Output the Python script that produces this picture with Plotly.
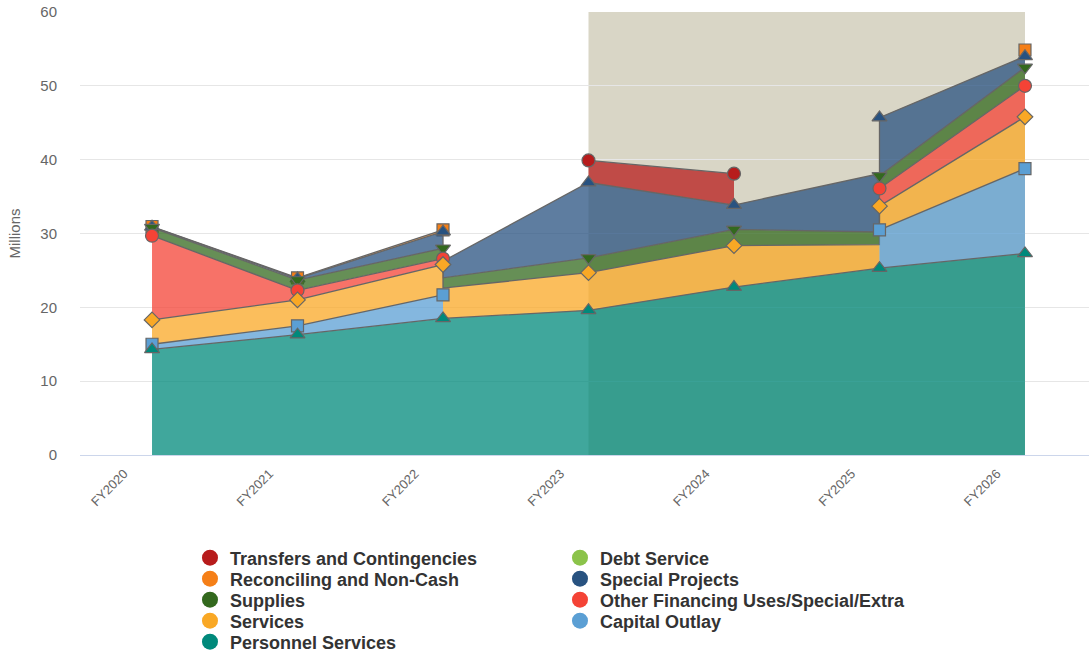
import plotly.graph_objects as go

# Fiscal years on the horizontal axis
fiscal_years = ["FY2020", "FY2021", "FY2022", "FY2023", "FY2024", "FY2025", "FY2026"]

# Spending by category, in millions (None = no budget line that year)
personnel_services = [14.3, 16.3, 18.5, 19.6, 22.75, 25.3, 27.3]
capital_outlay = [0.7, 1.2, 3.2, None, None, 5.2, 11.5]
services = [3.3, 3.5, 4.1, 5.1, 5.6, 3.2, 7.0]
other_financing = [11.4, 1.3, 0.8, None, None, 2.4, 4.2]
supplies = [1.1, 1.4, 1.4, 2.0, 2.2, 1.7, 2.5]
special_projects = [0.1, 0.2, 2.25, 10.2, 3.3, 7.9, 1.5]
reconciling = [0.05, 0.1, 0.25, None, None, None, 0.85]
debt_service = [None, None, None, None, None, None, None]
transfers = [None, None, None, 3.0, 4.25, None, None]

# Shaded range of years
band_start, band_end = "FY2023", "FY2026"

# Stack order, bottom to top: (name, values, colour, marker symbol)
stack = [
    ("Personnel Services", personnel_services, "#00897b", "triangle-up"),
    ("Capital Outlay", capital_outlay, "#5b9fd4", "square"),
    ("Services", services, "#f9a825", "diamond"),
    ("Other Financing Uses/Special/Extra", other_financing, "#f44336", "circle"),
    ("Supplies", supplies, "#33691e", "triangle-down"),
    ("Special Projects", special_projects, "#285280", "triangle-up"),
    ("Reconciling and Non-Cash", reconciling, "#f57f17", "square"),
    ("Debt Service", debt_service, "#8bc34a", "diamond"),
    ("Transfers and Contingencies", transfers, "#b71c1c", "circle"),
]

FONT = "Liberation Sans, Arial, sans-serif"
EDGE = "#666666"
n = len(fiscal_years)
xs = list(range(n))


def rgba(hex_colour, alpha):
    h = hex_colour.lstrip("#")
    r, g, b = int(h[0:2], 16), int(h[2:4], 16), int(h[4:6], 16)
    return f"rgba({r},{g},{b},{alpha})"


def base_between(level, k, j, at):
    """Sum of the lower layers that have values at both k and j, taken at `at`."""
    total = 0.0
    for _, vals, _, _ in stack[:level]:
        if vals[k] is not None and vals[j] is not None:
            total += vals[at]
    return total


def stacked_at(level, k):
    total = 0.0
    for _, vals, _, _ in stack[:level]:
        if vals[k] is not None:
            total += vals[k]
    return total + stack[level][1][k]


fig = go.Figure()

# Legend: two columns filled row by row, one small legend box per entry
legend_boxes = {}
LEGEND_X = [0.109, 0.4757]

# Draw from the top layer down so lower layers' edges and markers sit on top
for order, level in enumerate(range(len(stack) - 1, -1, -1)):
    name, vals, colour, symbol = stack[level]
    legend_id = "legend" if order == 0 else f"legend{order + 1}"
    legend_boxes[legend_id] = (order // 2, order % 2)

    # Contiguous runs of intervals where this layer has values at both ends
    runs, run = [], []
    for k in range(n - 1):
        if vals[k] is not None and vals[k + 1] is not None:
            run.append(k)
        elif run:
            runs.append(run)
            run = []
    if run:
        runs.append(run)

    area_x, area_y, line_x, line_y = [], [], [], []
    for run in runs:
        top_x, top_y, bot_x, bot_y = [], [], [], []
        for k in run:
            bl = base_between(level, k, k + 1, k)
            br = base_between(level, k, k + 1, k + 1)
            top_x += [xs[k], xs[k + 1]]
            top_y += [bl + vals[k], br + vals[k + 1]]
            bot_x += [xs[k], xs[k + 1]]
            bot_y += [bl, br]
        area_x += top_x + bot_x[::-1] + [top_x[0], None]
        area_y += top_y + bot_y[::-1] + [top_y[0], None]
        line_x += top_x + [None]
        line_y += top_y + [None]

    if area_x:
        fig.add_trace(go.Scatter(
            x=area_x, y=area_y, mode="lines", fill="toself",
            fillcolor=rgba(colour, 0.75), line=dict(width=0, color=colour),
            hoverinfo="skip", showlegend=False, legendgroup=name,
        ))
        fig.add_trace(go.Scatter(
            x=line_x, y=line_y, mode="lines",
            line=dict(width=1.3, color=EDGE),
            hoverinfo="skip", showlegend=False, legendgroup=name,
        ))

    mk_x = [xs[k] for k in range(n) if vals[k] is not None]
    mk_y = [stacked_at(level, k) for k in range(n) if vals[k] is not None]
    size = 12 if symbol in ("square", "diamond") else 13
    fig.add_trace(go.Scatter(
        x=mk_x, y=mk_y, mode="markers", name=name, legendgroup=name,
        marker=dict(symbol=symbol, size=size, color=colour,
                    line=dict(width=1.2, color=EDGE)),
        showlegend=False,
        hovertemplate=name + ": %{y:.2f}M<extra></extra>",
    ))

    # Round legend swatch
    fig.add_trace(go.Scatter(
        x=[None], y=[None], mode="markers", name=name, legendgroup=name,
        marker=dict(symbol="circle", size=18, color=colour),
        legend=legend_id, showlegend=True,
    ))

fig.add_shape(
    type="rect", xref="x", yref="y",
    x0=fiscal_years.index(band_start), x1=fiscal_years.index(band_end),
    y0=0, y1=60, fillcolor="#d9d6c6", line=dict(width=0), layer="below",
)

PLOT_H = 654 - 12 - 199
legend_layout = {}
for legend_id, (row, col) in legend_boxes.items():
    legend_layout[legend_id] = dict(
        orientation="v", xanchor="left", yanchor="top",
        x=LEGEND_X[col], y=-(84.5 + 21 * row) / PLOT_H,
        font=dict(family=FONT, size=18, color="#333333", weight="bold"),
        bgcolor="rgba(0,0,0,0)", borderwidth=0, tracegroupgap=0,
    )

fig.update_layout(
    width=1089, height=654,
    margin=dict(l=80, r=0, t=12, b=199, autoexpand=False),
    paper_bgcolor="white", plot_bgcolor="white",
    font=dict(family=FONT, color="#666666"),
    hovermode="closest",
    xaxis=dict(
        range=[-0.495, 6.44], tickvals=xs, ticktext=fiscal_years,
        tickangle=-45, tickfont=dict(size=13, color="#666666"),
        showgrid=False, zeroline=False, showline=True,
        linecolor="#ccd6eb", linewidth=1, ticks="",
        ticklabelshift=-28, ticklabelstandoff=5,
    ),
    yaxis=dict(
        range=[0, 60], dtick=10, tickfont=dict(size=15, color="#666666"),
        gridcolor="#e6e6e6", gridwidth=1, zeroline=False, showline=False,
        ticks="", ticklabelstandoff=22,
        title=dict(text="Millions", font=dict(size=15, color="#666666"), standoff=16),
    ),
    **legend_layout,
)

fig.write_html("out.html")
